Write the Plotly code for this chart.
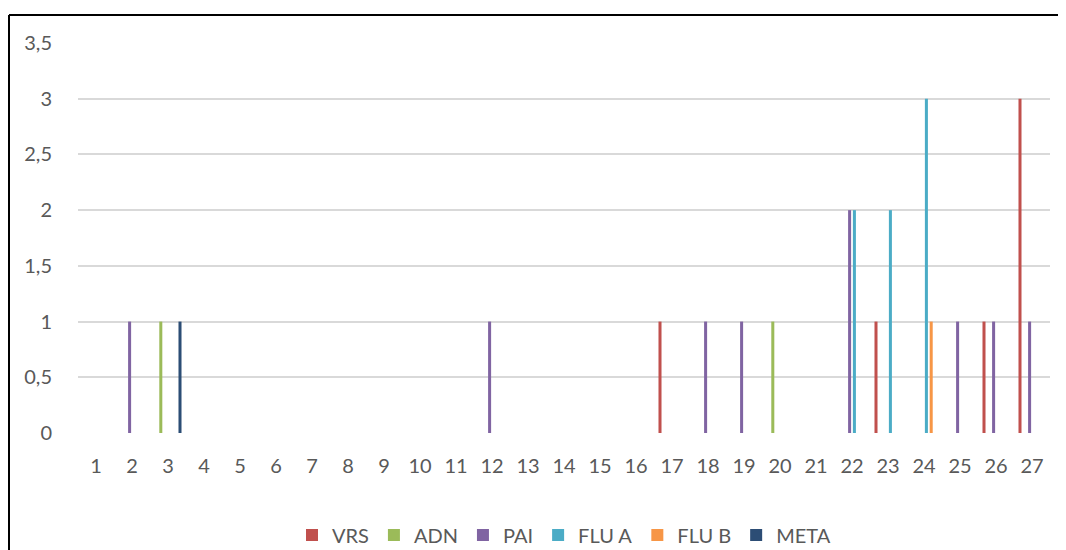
import plotly.graph_objects as go

categories = [str(i) for i in range(1, 28)]

vrs   = [0,0,0,0,0,0,0,0,0,0,0,0,0,0,0,0,1,0,0,0,0,0,1,0,0,1,3]
adn   = [0,0,1,0,0,0,0,0,0,0,0,0,0,0,0,0,0,0,0,1,0,0,0,0,0,0,0]
pai   = [0,1,0,0,0,0,0,0,0,0,0,1,0,0,0,0,0,1,1,0,0,2,0,0,1,1,1]
flu_a = [0,0,0,0,0,0,0,0,0,0,0,0,0,0,0,0,0,0,0,0,0,2,2,3,0,0,0]
flu_b = [0,0,0,0,0,0,0,0,0,0,0,0,0,0,0,0,0,0,0,0,0,0,0,1,0,0,0]
meta  = [0,0,1,0,0,0,0,0,0,0,0,0,0,0,0,0,0,0,0,0,0,0,0,0,0,0,0]

series = [
    ("VRS", vrs, "#C0504D"),
    ("ADN", adn, "#9BBB59"),
    ("PAI", pai, "#8064A2"),
    ("FLU A", flu_a, "#4BACC6"),
    ("FLU B", flu_b, "#F79646"),
    ("META", meta, "#2C4D75"),
]

fig = go.Figure()
for name, vals, color in series:
    fig.add_trace(go.Bar(x=categories, y=vals, name=name, legendgroup=name,
                         showlegend=False,
                         marker=dict(color=color, line=dict(width=0))))
# legend entries with square swatches like the reference
for name, vals, color in series:
    fig.add_trace(go.Scatter(x=[None], y=[None], mode="markers", name=name,
                             legendgroup=name,
                             marker=dict(symbol="square", size=12, color=color)))

font = dict(family="Lato, 'Open Sans', sans-serif", size=20, color="#595959")

# page body has an 8px margin, so the figure is shifted by 8px
W, H = 1058, 542
ml, mr, mt, mb = 70, 16, 35, 117
pw, ph = W - ml - mr, H - mt - mb

fig.update_layout(
    width=W, height=H,
    margin=dict(l=ml, r=mr, t=mt, b=mb, autoexpand=False),
    barmode="group", bargap=0.2, bargroupgap=0.37,
    plot_bgcolor="white", paper_bgcolor="white",
    separators=",.",
    font=font,
    legend=dict(orientation="h", x=0.5, xanchor="center",
                yref="container", y=1 - 527 / H, yanchor="middle",
                font=font, itemwidth=30, traceorder="normal"),
    xaxis=dict(type="category", showgrid=False, zeroline=False,
               showline=False, ticks="", ticklabelstandoff=19, tickfont=font,
               automargin=False),
    yaxis=dict(range=[0, 3.5], dtick=0.5, showgrid=True, gridcolor="#D9D9D9",
               gridwidth=1.5, zeroline=False, showline=False, ticks="",
               ticklabelstandoff=25, tickfont=font, automargin=False),
    shapes=[
        dict(type="line", xref="paper", yref="paper",
             x0=(1 - ml) / pw, x1=(W + 5 - ml) / pw,
             y0=1 + (mt - 7) / ph, y1=1 + (mt - 7) / ph,
             line=dict(color="black", width=2)),
        dict(type="line", xref="paper", yref="paper",
             x0=(1 - ml) / pw, x1=(1 - ml) / pw,
             y0=1 + (mt - 7) / ph, y1=-(H + 5 - mt - ph) / ph,
             line=dict(color="black", width=2)),
    ],
)

fig.write_html("out.html")
